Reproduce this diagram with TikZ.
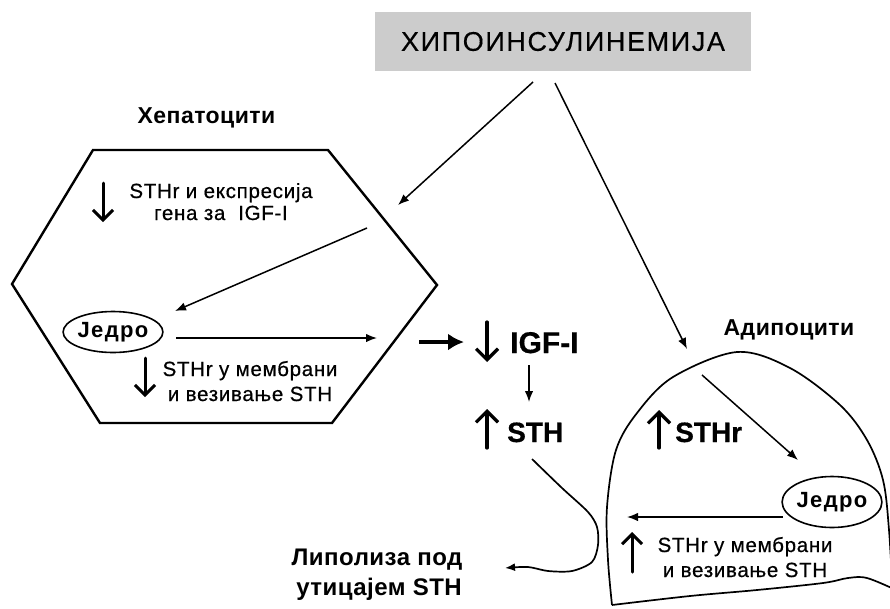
\documentclass[tikz,border=0pt]{standalone}
\usepackage{fontspec}
\setmainfont{Liberation Sans}
\newfontfamily\bodyfont{Liberation Sans}[LetterSpace=3.5,FakeBold=0.6]
\newfontfamily\titlefont{Liberation Sans}[LetterSpace=6,FakeBold=0.4]
\newfontfamily\labelfont{Liberation Sans}[LetterSpace=2]
\newfontfamily\nucfont{Liberation Sans}[LetterSpace=6]
\newfontfamily\bigfont{Liberation Sans}[FakeBold=0.6]
\usetikzlibrary{arrows.meta,shapes.geometric}
\definecolor{titlegray}{HTML}{CCCCCC}

\begin{document}
\begin{tikzpicture}[x=1pt,y=-1pt,
  txt/.style={inner sep=0pt, anchor=base},
  small/.style={txt, font=\bodyfont\fontsize{20.5}{24}\selectfont},
  label/.style={txt, font=\labelfont\bfseries\fontsize{23}{27}\selectfont},
  big/.style={inner sep=0pt, anchor=base west, font=\bigfont\bfseries\fontsize{30}{34}\selectfont},
  nucleus/.style={draw, ellipse, line width=1.6pt, inner sep=0pt,
    font=\nucfont\bfseries\fontsize{22}{25}\selectfont},
  conn/.style={line width=1.5pt, -{Latex[length=11pt,width=8.5pt]}},
  updown/.style={line width=3pt, line cap=round, -{Straight Barb[length=10pt,width=20pt]}},
  bigupdown/.style={updown, line width=3.2pt, -{Straight Barb[length=11pt,width=22pt]}},
  cell/.style={line width=1.7pt, line join=round},
]
\useasboundingbox (0,0) rectangle (890,608);
\clip (0,0) rectangle (890,608);

% --- title box ---
\node[fill=titlegray, minimum width=376pt, minimum height=59pt, inner sep=0pt,
  font=\titlefont\fontsize{27}{30}\selectfont] (title) at (563,41.5) {ХИПОИНСУЛИНЕМИЈА};

\coordinate (titleL) at (533,82);
\coordinate (titleR) at (555,83);
\coordinate (hepIn)  at (398,205);
\coordinate (adiIn)  at (687,349);
\draw[conn] (titleL) -- (hepIn);
\draw[conn] (titleR) -- (adiIn);

% --- hepatocyte ---
\node[label] (hepLbl) at (206.5,123) {Хепатоцити};
\draw[line width=2.4pt, line join=miter]
  (93,150) -- (328,150) -- (437,285) -- (332,423) -- (100,423) -- (12,284) -- cycle;

\coordinate (hepD1a) at (103,183);
\coordinate (hepD1b) at (103,222);
\draw[updown] (hepD1a) -- (hepD1b);
\node[small] (hepT1) at (221,198) {STHr и експресија};
\node[small] (hepT2) at (221,220) {гена за\ \ IGF-I};

\node[nucleus, minimum width=97pt, minimum height=41pt] (jedroH) at (113,332) {Једро};

\coordinate (hepA1s) at (367,228);
\coordinate (hepA1e) at (175,311);
\draw[conn] (hepA1s) -- (hepA1e);
\coordinate (hepA2s) at (176,338);
\coordinate (hepA2e) at (377,338);
\draw[conn] (hepA2s) -- (hepA2e);

\coordinate (hepD2a) at (145,358);
\coordinate (hepD2b) at (145,397);
\draw[updown] (hepD2a) -- (hepD2b);
\node[small] (hepT3) at (250,376) {STHr у мембрани};
\node[small] (hepT4) at (250,401) {и везивање STH};

% --- circulating hormones ---
\coordinate (thickS) at (419,342);
\coordinate (thickE) at (464,342);
\draw[line width=4pt, -{Latex[length=16pt,width=17pt]}] (thickS) -- (thickE);

\coordinate (igfDa) at (487,322);
\coordinate (igfDb) at (487,362);
\draw[bigupdown] (igfDa) -- (igfDb);
\node[big] (igf) at (510,353) {IGF-I};

\coordinate (igfOut) at (529,365);
\coordinate (sthIn)  at (529,402);
\draw[conn] (igfOut) -- (sthIn);

\coordinate (sthUa) at (487,448);
\coordinate (sthUb) at (487,409);
\draw[bigupdown] (sthUa) -- (sthUb);
\node[big, font=\bigfont\bfseries\fontsize{28}{32}\selectfont] (sth) at (507,442) {STH};

% --- lipolysis ---
\node[txt, font=\labelfont\bfseries\fontsize{24}{28}\selectfont] (lip1) at (377,565) {Липолиза под};
\node[txt, font=\labelfont\bfseries\fontsize{24}{28}\selectfont] (lip2) at (379,595) {утицајем STH};

\draw[line width=1.7pt, -{Latex[length=10pt,width=8pt]}]
  plot[smooth, tension=0.5] coordinates {(532,459) (562,488) (588,512) (597,527) (598,545) (592,562) (572,571) (548,571) (528,567) (505,568)};

% --- adipocyte ---
\node[label] (adiLbl) at (789,335) {Адипоцити};
\draw[cell] plot[smooth, tension=0.55] coordinates
  {(612,605) (608,560) (607,507) (616,450) (637,413) (673,377) (737,352) (790,368) (840,405) (867,440) (883,480) (889,530) (893,600)};
\draw[cell] plot[smooth, tension=0.55] coordinates
  {(612,605) (690,596) (757,590) (823,583) (848,578) (867,578) (896,590)};

\coordinate (adiUa) at (659,448);
\coordinate (adiUb) at (659,410);
\draw[bigupdown] (adiUa) -- (adiUb);
\node[big, font=\bigfont\bfseries\fontsize{28}{32}\selectfont] (sthr) at (675,442) {STHr};

\coordinate (adiA1s) at (702,375);
\coordinate (adiA1e) at (798,460);
\draw[conn] (adiA1s) -- (adiA1e);

\node[nucleus, minimum width=96pt, minimum height=51pt] (jedroA) at (832,502) {Једро};

\coordinate (adiA2s) at (783,517);
\coordinate (adiA2e) at (627,517);
\draw[conn] (adiA2s) -- (adiA2e);

\coordinate (adiU2a) at (632,572);
\coordinate (adiU2b) at (632,532);
\draw[updown] (adiU2a) -- (adiU2b);
\node[small] (adiT1) at (745,552) {STHr у мембрани};
\node[small] (adiT2) at (745,577) {и везивање STH};
\end{tikzpicture}
\end{document}
